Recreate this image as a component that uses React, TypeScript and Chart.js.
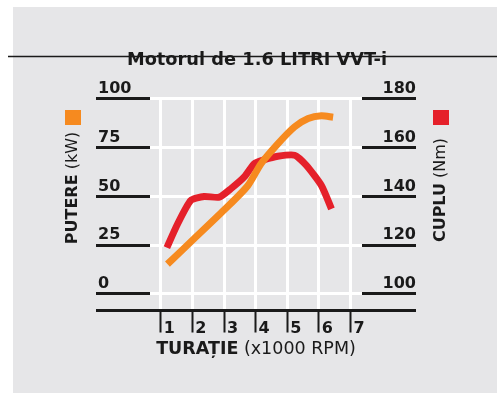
import React, { useEffect, useRef } from 'react';
import { Chart, registerables } from 'chart.js';

Chart.register(...registerables);

// ---- data ----
const powerRpm = [1.21, 2.0, 3.0, 3.75, 4.17, 4.7, 5.23, 5.66, 6.08, 6.45];
const powerKw = [15.3, 27.5, 43, 55.5, 66.8, 77, 85.7, 90, 91.4, 90.6];
const torqueRpm = [1.19, 1.53, 1.95, 2.37, 2.85, 3.22, 3.64, 3.96, 4.28, 4.7, 5.23, 5.6, 6.08, 6.4];
const torqueNm = [119, 128.7, 138.4, 140, 139.7, 143.2, 148, 153.5, 155.1, 156.5, 156.9, 152.8, 144.5, 134.9];
const rpmTicks = [1, 2, 3, 4, 5, 6, 7];
const powerTicks = [0, 25, 50, 75, 100];
const torqueTicks = [100, 120, 140, 160, 180];

const titleText = 'Motorul de 1.6 LITRI VVT-i';
const leftTitle: [string, boolean][] = [['PUTERE', true], [' (kW)', false]];
const rightTitle: [string, boolean][] = [['CUPLU', true], [' (Nm)', false]];
const xTitle: [string, boolean][] = [['TURAȚIE', true], [' (x1000 RPM)', false]];

const ORANGE = '#f68a1f';
const RED = '#e5202a';
const INK = '#1a1a1a';
const BG = '#e6e6e8';
const FONT = '"DejaVu Sans", sans-serif';

const POWER_MIN = -8.5;
const TORQUE_MIN = 93.2;

function drawMixed(ctx: CanvasRenderingContext2D, parts: [string, boolean][], size: number) {
  let total = 0;
  const widths: number[] = [];
  for (const [t, b] of parts) {
    ctx.font = `${b ? 'bold ' : ''}${size}px ${FONT}`;
    const w = ctx.measureText(t).width;
    widths.push(w);
    total += w;
  }
  let x = -total / 2;
  parts.forEach(([t, b], i) => {
    ctx.font = `${b ? 'bold ' : ''}${size}px ${FONT}`;
    ctx.fillText(t, x, 0);
    x += widths[i];
  });
}

const decorPlugin = {
  id: 'decor',
  beforeDraw(chart: any) {
    const ctx = chart.ctx as CanvasRenderingContext2D;
    ctx.save();
    ctx.fillStyle = BG;
    ctx.fillRect(13, 7, 484, 386);
    ctx.strokeStyle = INK;
    ctx.lineWidth = 1.3;
    ctx.beginPath();
    ctx.moveTo(8, 56.5);
    ctx.lineTo(497, 56.5);
    ctx.stroke();
    ctx.restore();
  },
  afterDraw(chart: any) {
    const ctx = chart.ctx as CanvasRenderingContext2D;
    ctx.save();
    // legend squares
    ctx.fillStyle = ORANGE;
    ctx.fillRect(65, 110, 16, 15);
    ctx.fillStyle = RED;
    ctx.fillRect(433, 110, 16, 15);
    ctx.fillStyle = INK;
    ctx.textBaseline = 'middle';
    ctx.textAlign = 'left';
    // left title
    ctx.save();
    ctx.translate(73, 188);
    ctx.rotate(-Math.PI / 2);
    drawMixed(ctx, leftTitle, 16);
    ctx.restore();
    // right title
    ctx.save();
    ctx.translate(441, 190);
    ctx.rotate(-Math.PI / 2);
    drawMixed(ctx, rightTitle, 16);
    ctx.restore();
    // x title
    ctx.save();
    ctx.translate(256, 349);
    drawMixed(ctx, xTitle, 17.5);
    ctx.restore();
    ctx.restore();
  },
};

export default function App() {
  const ref = useRef<HTMLCanvasElement>(null);
  useEffect(() => {
    if (!ref.current) return;
    const chart = new Chart(ref.current, {
      type: 'line',
      data: {
        datasets: [
          {
            label: 'PUTERE (kW)',
            data: powerRpm.map((x, i) => ({ x, y: powerKw[i] })),
            borderColor: ORANGE,
            backgroundColor: ORANGE,
            borderWidth: 7,
            pointRadius: 0,
            tension: 0.25,
            borderCapStyle: 'butt',
            borderJoinStyle: 'round',
            yAxisID: 'yP',
          },
          {
            label: 'CUPLU (Nm)',
            data: torqueRpm.map((x, i) => ({ x, y: torqueNm[i] })),
            borderColor: RED,
            backgroundColor: RED,
            borderWidth: 7,
            pointRadius: 0,
            tension: 0.2,
            borderCapStyle: 'butt',
            borderJoinStyle: 'round',
            yAxisID: 'yT',
          },
        ],
      },
      options: {
        animation: false,
        responsive: false,
        devicePixelRatio: 1,
        layout: { padding: { left: 98, right: 88, top: 0, bottom: 57.5 } },
        plugins: {
          legend: { display: false },
          tooltip: { enabled: false },
          title: {
            display: true,
            text: titleText,
            color: INK,
            font: { family: FONT, size: 17.8, weight: 'bold' },
            padding: { top: 49.8, bottom: 27.8 },
          },
        },
        scales: {
          x: {
            type: 'linear',
            position: 'bottom',
            min: 0.658,
            max: 7.364,
            afterBuildTicks: (s: any) => {
              s.ticks = rpmTicks.map((v) => ({ value: v }));
            },
            afterFit: (s: any) => {
              s.height = 30;
            },
            border: { display: false },
            grid: {
              z: -2,
              color: '#ffffff',
              lineWidth: 3,
              tickColor: INK,
              tickWidth: 2,
              tickLength: 22,
            },
            ticks: {
              color: INK,
              font: { family: FONT, size: 16, weight: 'bold' },
              labelOffset: 8.5,
              padding: -13.5,
              autoSkip: false,
              maxRotation: 0,
              callback: (v: any) => String(v),
            },
          },
          yP: {
            type: 'linear',
            position: 'left',
            min: POWER_MIN,
            max: 100,
            afterBuildTicks: (s: any) => {
              s.ticks = [POWER_MIN, ...powerTicks].map((v) => ({ value: v }));
            },
            afterFit: (s: any) => {
              s.width = 52;
            },
            border: { display: false },
            grid: {
              color: (c: any) => (c.tick && c.tick.value < 0 ? INK : '#ffffff'),
              lineWidth: 3,
              tickColor: INK,
              tickWidth: 3,
              tickLength: 54,
            },
            ticks: {
              color: INK,
              font: { family: FONT, size: 16, weight: 'bold' },
              crossAlign: 'far',
              labelOffset: -10,
              padding: 0,
              callback: (v: any) => (v < 0 ? '' : String(v)),
            },
          },
          yT: {
            type: 'linear',
            position: 'right',
            min: TORQUE_MIN,
            max: 180,
            afterBuildTicks: (s: any) => {
              s.ticks = [TORQUE_MIN, ...torqueTicks].map((v) => ({ value: v }));
            },
            afterFit: (s: any) => {
              s.width = 54;
            },
            border: { display: false },
            grid: {
              drawOnChartArea: false,
              color: INK,
              lineWidth: 3,
              tickColor: INK,
              tickWidth: 3,
              tickLength: 54,
            },
            ticks: {
              color: INK,
              font: { family: FONT, size: 16, weight: 'bold' },
              crossAlign: 'far',
              labelOffset: -10,
              padding: 0,
              callback: (v: any) => (v < 100 ? '' : String(v)),
            },
          },
        },
      },
      plugins: [decorPlugin],
    } as any);
    return () => chart.destroy();
  }, []);
  return (
    <div style={{ position: 'fixed', left: 0, top: 0, width: 504, height: 398, background: '#ffffff' }}>
      <canvas ref={ref} width={504} height={398} style={{ display: 'block' }} />
    </div>
  );
}
